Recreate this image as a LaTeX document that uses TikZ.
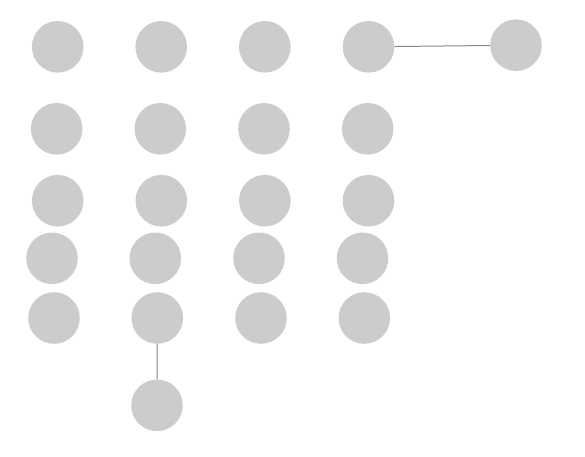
\documentclass[tikz,border=0pt]{standalone}
\begin{document}
\begin{tikzpicture}[x=1pt,y=-1pt,
  dot/.style={circle,fill={rgb,255:red,204;green,204;blue,204},draw=none,minimum size=51.6pt,inner sep=0pt},
  link/.style={draw={rgb,255:red,136;green,136;blue,136},line width=1pt}]
\useasboundingbox (0,0) rectangle (585,456);
% row 1
\node[dot] (a1) at (57.7,46.8) {};
\node[dot] (a2) at (161.2,46.8) {};
\node[dot] (a3) at (264.8,46.8) {};
\node[dot] (a4) at (368.5,46.8) {};
\node[dot] (a5) at (516,45.2) {};
% row 2
\node[dot] (b1) at (56.7,128.8) {};
\node[dot] (b2) at (160.3,128.8) {};
\node[dot] (b3) at (264,128.8) {};
\node[dot] (b4) at (367.7,128.8) {};
% row 3
\node[dot] (c1) at (57.7,200.7) {};
\node[dot] (c2) at (161.3,200.7) {};
\node[dot] (c3) at (264.8,200.7) {};
\node[dot] (c4) at (368.5,200.7) {};
% row 4
\node[dot] (d1) at (52,258.3) {};
\node[dot] (d2) at (155.3,258.3) {};
\node[dot] (d3) at (259,258.3) {};
\node[dot] (d4) at (362.5,258.3) {};
% row 5
\node[dot] (e1) at (54,318) {};
\node[dot] (e2) at (157.3,318) {};
\node[dot] (e3) at (261,318) {};
\node[dot] (e4) at (364.3,318) {};
% extra
\node[dot] (f2) at (157,405.3) {};
\draw[link] (a4) -- (a5);
\draw[link] (e2) -- (f2);
\end{tikzpicture}
\end{document}
